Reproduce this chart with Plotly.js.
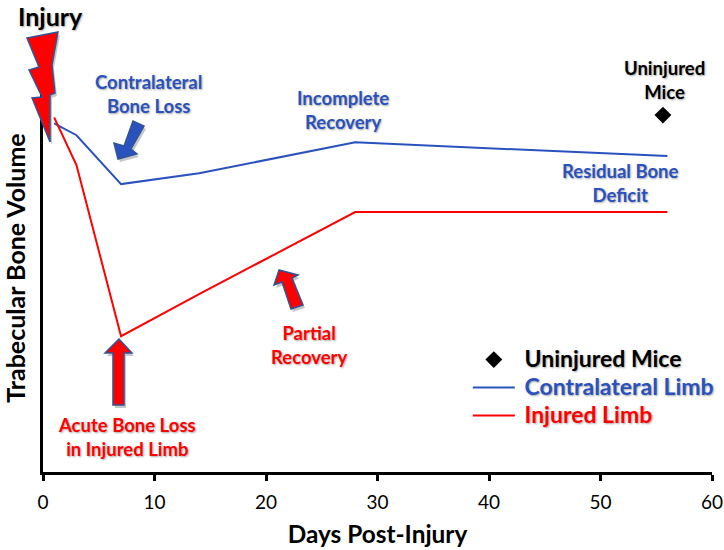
<!DOCTYPE html>
<html><head><meta charset="utf-8">
<script src="https://cdn.plot.ly/plotly-3.0.1.min.js"></script>
<style>html,body{margin:0;padding:0;background:#fff}</style>
</head><body><div id="chart" style="width:724px;height:550px"></div>
<script>
const days = [1, 3, 7, 14, 28, 56];
const contralateral = [93.5, 90.3, 77.2, 80.1, 88.4, 84.7];
const injured = [95.1, 82.3, 36.4, 47.7, 69.7, 69.7];
const uninjuredX = [55.6];
const uninjuredY = [95.7];
const xTicks = [0, 10, 20, 30, 40, 50, 60];
const BLUE = '#2a52be', RED = '#ff0000', OUT = '#2f5597';
const W = 724, H = 550, L = 43, R = 12, T = 64, B = 78;
const FONT = 'Lato, "Open Sans", sans-serif';
const SHADOW = '1px 1px 2px rgba(0,0,0,0.35)';

// decorative callout glyphs, in image pixels
const bolt = [[27,38],[58,32],[52,65],[55,93],[50,95],[50,142],[32,98],[42,97],[29,70],[39,67]];
const blueArrow = [[118,159],[114,143],[124,146],[133,121],[144,126],[131,149],[137,154]];
const upArrow = [[119,339],[105,353],[113,353],[113,405],[124,405],[124,353],[132,353]];
const partialArrow = [[279,270],[274,285],[282,282],[291,309],[303,305],[292,278],[298,275]];

const toPath = (p, dx = 0, dy = 0) => 'M' + p.map(([x, y]) =>
  ((x + dx - L) / (W - L - R)).toFixed(4) + ',' + ((H - B - y - dy) / (H - T - B)).toFixed(4)).join('L') + 'Z';
const glyph = (p, fill, line) => [
  {type:'path', xref:'paper', yref:'paper', path:toPath(p, 2, 3), fillcolor:'rgba(0,0,0,0.22)', line:{width:0}, layer:'above'},
  {type:'path', xref:'paper', yref:'paper', path:toPath(p), fillcolor:fill, line:{color:line, width:1.5}, layer:'above'}
];

const note = (text, px, py, color, size) => ({
  text, x:(px - L) / (W - L - R), y:(H - B - py) / (H - T - B), xref:'paper', yref:'paper',
  showarrow:false, xanchor:'center', yanchor:'middle', align:'center',
  font:{family:FONT, size:size || 18.5, color, weight:700, shadow:SHADOW}
});
const legendName = (text, color) => '<b>&nbsp;<span style="font-size:23px;color:' + color + '">' + text + '</span></b>';

const traces = [
  {x:uninjuredX, y:uninjuredY, mode:'markers', name:legendName('Uninjured Mice', '#000'),
   marker:{symbol:'diamond', size:13, color:'#000'}, cliponaxis:false},
  {x:days, y:contralateral, mode:'lines', name:legendName('Contralateral Limb', BLUE),
   line:{color:BLUE, width:2}, cliponaxis:false},
  {x:days, y:injured, mode:'lines', name:legendName('Injured Limb', RED),
   line:{color:RED, width:2}, cliponaxis:false}
];

const layout = {
  width:W, height:H, margin:{l:L, r:R, t:T, b:B, pad:0, autoexpand:false},
  paper_bgcolor:'#fff', plot_bgcolor:'#fff', font:{family:FONT, color:'#000'},
  xaxis:{range:[0,60], tickvals:xTicks, ticks:'outside', ticklen:6, tickwidth:3, tickcolor:'#000',
    showline:true, linecolor:'#000', linewidth:3, showgrid:false, zeroline:false, ticklabelstandoff:5,
    tickfont:{family:FONT, size:19, color:'#000'},
    title:{text:'<b>Days Post-Injury</b>', font:{family:FONT, size:24.4, color:'#000'}, standoff:15}},
  yaxis:{range:[0,109.4], showticklabels:false, ticks:'', showline:true, linecolor:'#000', linewidth:3,
    showgrid:false, zeroline:false,
    title:{text:'<b>Trabecular Bone Volume</b>', font:{family:FONT, size:25, color:'#000'}, standoff:22}},
  legend:{x:0.635, y:0.322, xanchor:'left', yanchor:'top', bgcolor:'rgba(0,0,0,0)', borderwidth:0,
    itemwidth:42, tracegroupgap:0, font:{family:FONT, size:19.2, color:'#000', shadow:SHADOW}},
  shapes:[...glyph(bolt, RED, OUT), ...glyph(blueArrow, BLUE, OUT), ...glyph(upArrow, RED, OUT), ...glyph(partialArrow, RED, OUT)],
  annotations:[
    note('Injury', 50, 16, '#000', 25),
    note('Contralateral<br>Bone Loss', 148, 94, BLUE),
    note('Incomplete<br>Recovery', 343, 110, BLUE),
    note('Residual Bone<br>Deficit', 620, 183, BLUE),
    note('Uninjured<br>Mice', 664, 80, '#000'),
    note('Partial<br>Recovery', 309, 345, RED),
    note('Acute Bone Loss<br>in Injured Limb', 127, 437, RED)
  ],
  showlegend:true
};
Plotly.newPlot('chart', traces, layout, {displayModeBar:false, staticPlot:true});
</script></body></html>
